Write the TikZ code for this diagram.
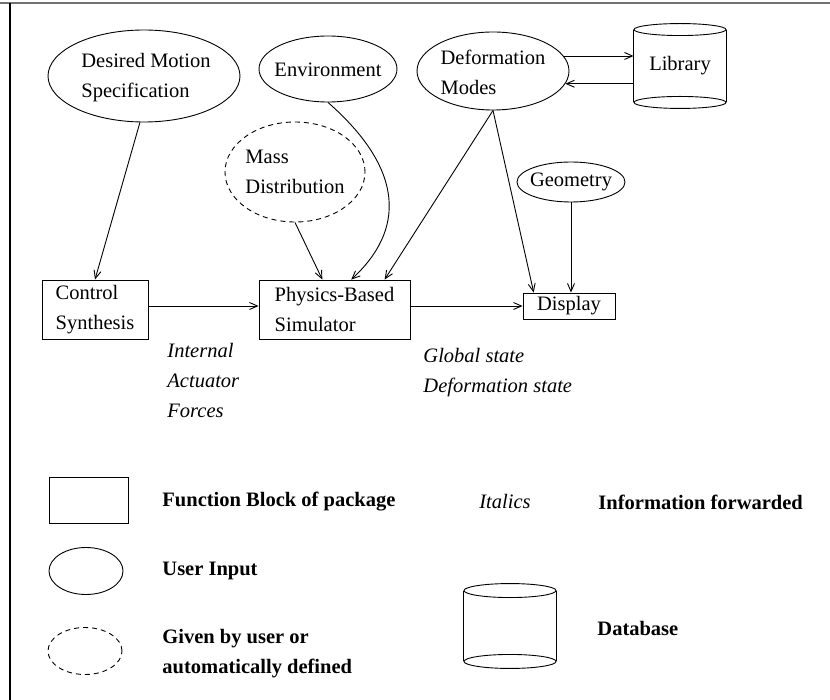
\documentclass[tikz,border=0pt]{standalone}
\usepackage{fontspec}
\setmainfont{Liberation Serif}
\usetikzlibrary{arrows.meta,shapes.geometric,calc}
\begin{document}
\begin{tikzpicture}[x=1pt,y=-1pt,
  every node/.style={font={\fontsize{20.5pt}{30pt}\selectfont}, inner sep=0pt},
  line width=0.9pt,
  ell/.style={ellipse, draw, inner sep=0pt},
  dashell/.style={ell, dash pattern=on 5pt off 4pt},
  box/.style={rectangle, draw, align=left},
  arr/.style={-{Straight Barb[length=8pt,width=7pt]}},
  lbl/.style={anchor=west, align=left},
  itl/.style={lbl, font={\fontsize{20.5pt}{30pt}\selectfont\itshape}},
  bld/.style={lbl, font={\fontsize{20.5pt}{30pt}\selectfont\bfseries}},
  cylw/.style={line width=0.9pt}
]
\useasboundingbox (0,0) rectangle (830,700);
% frame
\draw[black!55, line width=2pt] (0,3) -- (830,3);
\draw[line width=1.3pt] (10,3) -- (10,700);

% user inputs
\node[ell, minimum width=192pt, minimum height=92pt] (des) at (144,76) {};
\node[align=left] at ([xshift=2pt,yshift=-2pt]des.center) {Desired Motion\\Specification};

\node[ell, minimum width=138pt, minimum height=66pt] (env) at (328,69) {};
\node at ([yshift=-1pt]env.center) {Environment};

\node[ell, minimum width=152pt, minimum height=78pt] (dfm) at (493,71) {};
\node[align=left] at ([yshift=-1pt]dfm.center) {Deformation\\Modes};

\node[dashell, minimum width=140pt, minimum height=100pt] (mass) at (295,172) {};
\node[align=left] at (mass.center) {Mass\\Distribution};

\node[ell, minimum width=108pt, minimum height=40pt] (geo) at (571,182) {};
\node at (geo.center) {Geometry};

% library database
\node[minimum width=92pt, minimum height=72pt] (lib) at (680,66) {Library};
\draw (lib.north) ellipse [x radius=46pt, y radius=6pt];
\draw (lib.south) ellipse [x radius=46pt, y radius=6pt];
\draw (lib.north west) -- (lib.south west) (lib.north east) -- (lib.south east);

% function blocks
\node[box, minimum width=106pt, minimum height=59pt] (ctrl) at (95,309.5) {Control\\Synthesis};
\node[box, minimum width=151pt, minimum height=59pt] (phys) at (334.5,309.5) {Physics-Based\\Simulator};
\node[box, minimum width=92pt, minimum height=26pt] (disp) at (569,306) {Display};

% connectors
\draw[arr] (des.265) -- (ctrl.north);
\draw[arr] (ctrl.east |- disp.west) -- (phys.west |- disp.west);
\draw[arr] (phys.east |- disp.west) -- (disp.west);
\draw[arr] (mass.south) -- ($(phys.north west)!0.42!(phys.north east)$);
\draw[arr] (env.south) .. controls (405,170) and (405,230) .. ($(phys.north west)!0.61!(phys.north east)$);
\draw[arr] (dfm.south) -- ($(phys.north west)!0.83!(phys.north east)$);
\draw[arr] (dfm.south) -- ($(disp.north west)!0.12!(disp.north east)$);
\draw[arr] (geo.south) -- (geo.south |- disp.north);
\draw[arr] (dfm.12) -- (dfm.12 -| lib.west);
\draw[arr] (dfm.350.6 -| lib.west) -- (dfm.350.6);

% information labels
\node[itl] (lab1) at (167,380) {Internal\\Actuator\\Forces};
\node[itl] (lab2) at (423,373) {Global state\\Deformation state};

% legend
\node[draw, minimum width=79pt, minimum height=46pt] (lrect) at (88.5,500) {};
\node[bld] (t1) at (162,502) {Function Block of package};
\node[ell, minimum width=74pt, minimum height=47pt] (lell) at (86,571) {};
\node[bld] (t2) at (162,571) {User Input};
\node[dashell, minimum width=74pt, minimum height=47pt] (ldash) at (85,651) {};
\node[bld] (t3) at (162,654) {Given by user or\\automatically defined};
\node[itl, anchor=center] (t4) at (505,501) {Italics};
\node[bld] (t5) at (598,502) {Information forwarded};
\node[minimum width=92pt, minimum height=70pt] (db) at (510,626) {};
\draw (db.north) ellipse [x radius=46pt, y radius=7pt];
\draw (db.south) ellipse [x radius=46pt, y radius=7pt];
\draw (db.north west) -- (db.south west) (db.north east) -- (db.south east);
\node[bld] (t6) at (597,628) {Database};
\end{tikzpicture}
\end{document}
